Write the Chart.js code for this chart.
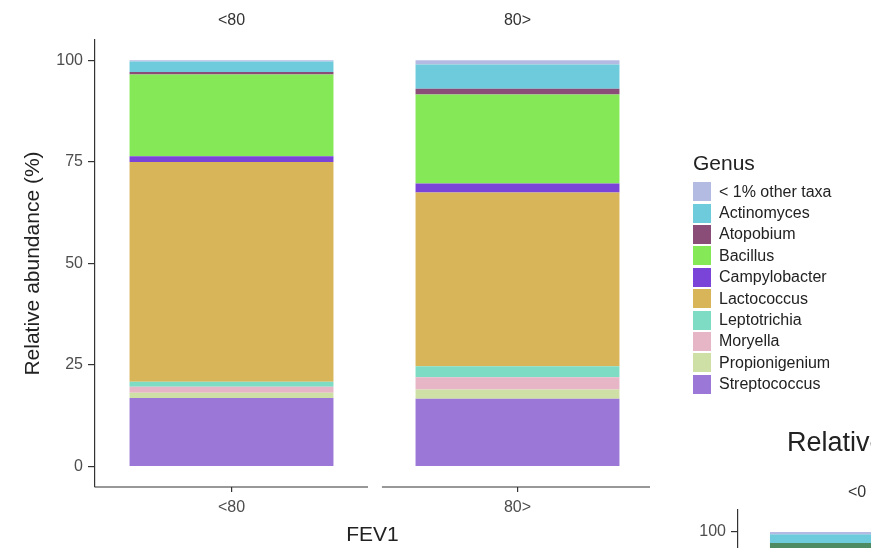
<!DOCTYPE html>
<html>
<head>
<meta charset="utf-8">
<script src="https://cdn.jsdelivr.net/npm/chart.js@4/dist/chart.umd.min.js"></script>
<style>
  html, body { margin: 0; padding: 0; background: #fff; overflow: hidden; }
  body { width: 871px; height: 548px; position: relative; font-family: "Liberation Sans", Arial, sans-serif; }
  #main { position: absolute; left: 0; top: 0; }
  #legend { position: absolute; left: 693px; top: 150px; color: #222; }
  #legend .ttl { font-size: 21px; line-height: 26px; margin-bottom: 5px; }
  #legend .row { display: flex; align-items: center; height: 21.4px; font-size: 16px; }
  #legend .key { width: 18px; height: 19px; margin-right: 8px; }
  #side { position: absolute; left: 660px; top: 400px; }
  #sideTitle { position: absolute; left: 787px; top: 426px; font-size: 27px; line-height: 32px; color: #222; white-space: nowrap; }
  #sideStrip { position: absolute; left: 848px; top: 482px; font-size: 16px; line-height: 20px; color: #333; white-space: nowrap; }
</style>
</head>
<body>
<canvas id="main" width="871" height="548"></canvas>
<div id="legend"></div>
<canvas id="side" width="360" height="655"></canvas>
<div id="sideTitle">Relative abundance</div>
<div id="sideStrip">&lt;0</div>
<script>
// FEV1 groups (facets) and genera, listed in legend order
const groups = ['<80', '80>'];
const genera = ['< 1% other taxa', 'Actinomyces', 'Atopobium', 'Bacillus', 'Campylobacter',
                'Lactococcus', 'Leptotrichia', 'Moryella', 'Propionigenium', 'Streptococcus'];
const genusColours = ['#b4bbe3', '#6dcbdc', '#8a4d78', '#85e856', '#7a44d8',
                      '#d9b55a', '#7fdcc4', '#e6b6c6', '#cfe0a6', '#9b78d8'];

// relative abundance (%) per genus, same order as genera
const abundanceLow  = [0.3, 2.6, 0.6, 20.1, 1.4, 54.1, 1.2, 1.5, 1.3, 16.9];   // FEV1 <80
const abundanceHigh = [1.0, 6.0, 1.4, 21.9, 2.2, 42.8, 2.7, 3.0, 2.3, 16.7];   // FEV1 80>
const yTickValues = [0, 25, 50, 75, 100];

// second figure: top segments of its first bar (floating ranges, %)
const sideCategories = ['<0'];
const sideRanges = [[99.5, 100], [97.5, 99.5], [95, 97.5]];
const sideColours = ['#b4bbe3', '#6dcbdc', '#4e8a62'];

const axisColour = '#333';
const tickFont = { size: 16 };
const titleFont = { size: 21 };
Chart.defaults.font.family = '"Liberation Sans", Arial, sans-serif';

// stacked datasets: the last genus sits at the bottom of each bar
const datasets = [];
for (let i = genera.length - 1; i >= 0; i--) {
  datasets.push({
    label: genera[i],
    data: [{ x: 0, y: abundanceLow[i] }, { x: 1, y: abundanceHigh[i] }],
    backgroundColor: genusColours[i],
    borderWidth: 0,
    barPercentage: 0.713,
    categoryPercentage: 1
  });
}

const xMin = -0.4773, xMax = 1.4633;
const groupTicks = s => { s.ticks = groups.map((g, i) => ({ value: i })); };

// each facet panel gets its own piece of x axis line
const panelAxes = {
  id: 'panelAxes',
  afterDraw(chart) {
    const { ctx, chartArea, scales } = chart;
    const x = scales.x;
    const y = chartArea.bottom;
    ctx.save();
    ctx.strokeStyle = axisColour;
    ctx.lineWidth = 1.2;
    ctx.beginPath();
    ctx.moveTo(chartArea.left, y);
    ctx.lineTo(x.getPixelForValue(0.4773), y);
    ctx.moveTo(x.getPixelForValue(0.526), y);
    ctx.lineTo(chartArea.right, y);
    ctx.stroke();
    ctx.restore();
  }
};

new Chart(document.getElementById('main'), {
  type: 'bar',
  data: { datasets },
  plugins: [panelAxes],
  options: {
    responsive: false,
    animation: false,
    layout: { padding: { left: 0, right: 221, top: 0, bottom: 0 } },
    plugins: { legend: { display: false }, tooltip: { enabled: false } },
    scales: {
      x: {
        type: 'linear', position: 'bottom', stacked: true, min: xMin, max: xMax,
        offset: false,
        afterBuildTicks: groupTicks,
        afterFit: s => { s.height = 61; },
        ticks: { callback: v => groups[v], color: '#4d4d4d', font: tickFont, padding: 6, autoSkip: false, maxRotation: 0 },
        grid: { display: true, offset: false, drawOnChartArea: false, drawTicks: true, tickLength: 5, color: axisColour, lineWidth: 1.2 },
        border: { display: false },
        title: { display: true, text: 'FEV1', color: '#222', font: titleFont, padding: { top: 0, bottom: 0.5 } }
      },
      x2: {
        type: 'linear', position: 'top', min: xMin, max: xMax,
        offset: false,
        afterBuildTicks: groupTicks,
        afterFit: s => { s.height = 40; },
        ticks: { callback: v => groups[v], color: '#333', font: tickFont, padding: 10, autoSkip: false, maxRotation: 0 },
        grid: { display: false, offset: false, drawTicks: false },
        border: { display: false }
      },
      y: {
        stacked: true, min: -5, max: 105,
        afterBuildTicks: s => { s.ticks = yTickValues.map(v => ({ value: v })); },
        afterFit: s => { s.width = 95; },
        ticks: { color: '#4d4d4d', font: tickFont, padding: 5 },
        grid: { display: true, drawOnChartArea: false, tickLength: 7, color: axisColour, lineWidth: 1.2 },
        border: { display: true, color: axisColour, width: 1.2 },
        title: { display: true, text: 'Relative abundance (%)', color: '#222', font: titleFont, padding: { top: 20.4, bottom: 0 } }
      }
    }
  }
});

// legend built from the genus lists
const legend = document.getElementById('legend');
const ttl = document.createElement('div');
ttl.className = 'ttl';
ttl.textContent = 'Genus';
legend.appendChild(ttl);
genera.forEach((g, i) => {
  const row = document.createElement('div');
  row.className = 'row';
  const key = document.createElement('span');
  key.className = 'key';
  key.style.background = genusColours[i];
  const txt = document.createElement('span');
  txt.textContent = g;
  row.appendChild(key);
  row.appendChild(txt);
  legend.appendChild(row);
});

// second figure, only its upper left corner is in view
new Chart(document.getElementById('side'), {
  type: 'bar',
  data: {
    labels: sideCategories,
    datasets: sideRanges.map((r, i) => ({
      data: [r], backgroundColor: sideColours[i], borderWidth: 0,
      barPercentage: 0.765, categoryPercentage: 1, grouped: false
    }))
  },
  options: {
    responsive: false,
    animation: false,
    layout: { padding: { left: 0, right: 10, top: 110, bottom: 0 } },
    plugins: { legend: { display: false }, tooltip: { enabled: false } },
    scales: {
      x: {
        afterFit: s => { s.height = 61; },
        ticks: { color: '#4d4d4d', font: tickFont },
        grid: { display: false },
        border: { display: true, color: axisColour, width: 1.2 }
      },
      y: {
        min: -5, max: 105,
        afterBuildTicks: s => { s.ticks = yTickValues.map(v => ({ value: v })); },
        afterFit: s => { s.width = 78; },
        ticks: { color: '#4d4d4d', font: tickFont, padding: 5 },
        grid: { display: true, drawOnChartArea: false, tickLength: 7, color: axisColour, lineWidth: 1.2 },
        border: { display: true, color: axisColour, width: 1.2 }
      }
    }
  }
});
</script>
</body>
</html>
